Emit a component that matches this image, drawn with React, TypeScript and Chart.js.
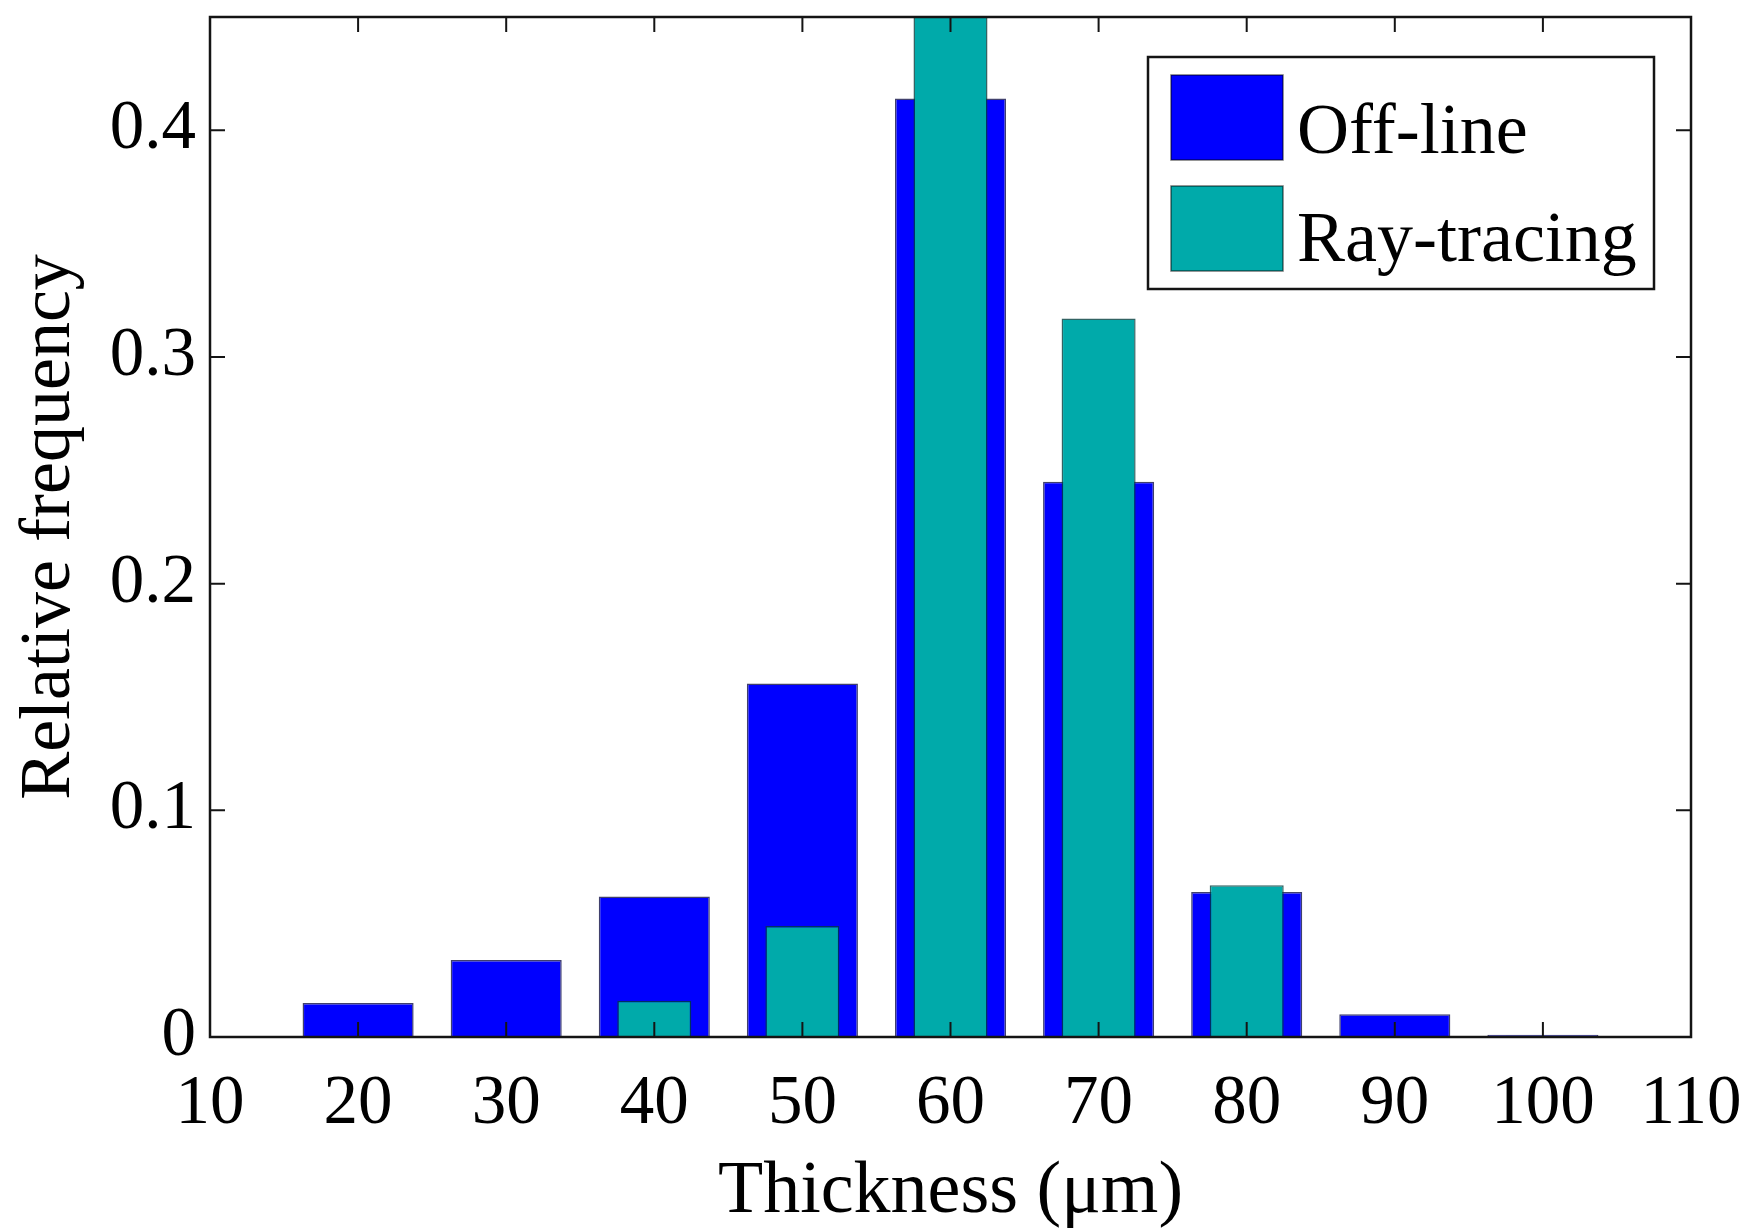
import React, { useEffect, useRef } from "react";
import { Chart, registerables } from "chart.js";

Chart.register(...registerables);

// ---- data ----
const thickness: number[] = [20, 30, 40, 50, 60, 70, 80, 90, 100];
const offLine: (number | null)[] = [0.015, 0.034, 0.062, 0.156, 0.414, 0.245, 0.064, 0.01, 0.001];
const rayTracing: (number | null)[] = [null, null, 0.016, 0.049, 0.47, 0.317, 0.067, null, 0.0006];
const xTicks: number[] = [10, 20, 30, 40, 50, 60, 70, 80, 90, 100, 110];
const yTicks: number[] = [0, 0.1, 0.2, 0.3, 0.4];
const seriesLabels: string[] = ["Off-line", "Ray-tracing"];
const xTitle = "Thickness (\u03bcm)";
const yTitle = "Relative frequency";

const FONT = "'Liberation Serif', 'Times New Roman', Times, serif";
const BLUE = "rgb(0,0,255)";
const TEAL = "rgb(0,170,170)";

const framePlugin = {
  id: "matlabFrame",
  afterDatasetsDraw(chart: any) {
    const { ctx, chartArea: a, scales } = chart;
    const xs = scales.x;
    const ys = scales.y;
    ctx.save();
    ctx.strokeStyle = "#141414";
    ctx.lineWidth = 2.5;
    ctx.strokeRect(a.left, a.top, a.right - a.left, a.bottom - a.top);
    ctx.lineWidth = 2;
    const L = 15;
    ctx.beginPath();
    for (const v of xTicks) {
      const px = xs.getPixelForValue(v);
      ctx.moveTo(px, a.bottom);
      ctx.lineTo(px, a.bottom - L);
      ctx.moveTo(px, a.top);
      ctx.lineTo(px, a.top + L);
    }
    for (const v of yTicks) {
      const py = ys.getPixelForValue(v);
      ctx.moveTo(a.left, py);
      ctx.lineTo(a.left + L, py);
      ctx.moveTo(a.right, py);
      ctx.lineTo(a.right - L, py);
    }
    ctx.stroke();
    ctx.restore();
  },
};

const legendPlugin = {
  id: "boxLegend",
  afterDraw(chart: any) {
    const { ctx, chartArea: a } = chart;
    const w = 506;
    const h = 232;
    const bx = a.right - 37 - w;
    const by = a.top + 40;
    ctx.save();
    ctx.fillStyle = "#fff";
    ctx.fillRect(bx, by, w, h);
    ctx.strokeStyle = "#141414";
    ctx.lineWidth = 2.5;
    ctx.strokeRect(bx, by, w, h);
    chart.data.datasets.forEach((ds: any, i: number) => {
      const sy = by + 18 + i * 111;
      ctx.fillStyle = ds.backgroundColor;
      ctx.fillRect(bx + 23, sy, 112, 85);
      ctx.strokeStyle = "rgba(0,0,0,0.55)";
      ctx.lineWidth = 1.5;
      ctx.strokeRect(bx + 23, sy, 112, 85);
      ctx.fillStyle = "#000";
      ctx.font = `72px ${FONT}`;
      ctx.textBaseline = "alphabetic";
      ctx.textAlign = "left";
      ctx.fillText(ds.label, bx + 149, by + 96 + i * 108);
    });
    ctx.restore();
  },
};

export default function App() {
  const canvasRef = useRef<HTMLCanvasElement | null>(null);

  useEffect(() => {
    document.body.style.margin = "0";
    document.body.style.overflow = "hidden";
    document.body.style.background = "#fff";
    const canvas = canvasRef.current;
    if (!canvas) return;
    const chart = new Chart(canvas, {
      type: "bar",
      data: {
        datasets: [
          {
            label: seriesLabels[0],
            data: thickness.map((x, i) => ({ x, y: offLine[i] })) as any,
            backgroundColor: BLUE,
            borderColor: "rgba(0,0,60,0.75)",
            borderWidth: 1.5,
            borderSkipped: "start",
            barPercentage: 0.75,
            categoryPercentage: 1,
            grouped: false,
            order: 2,
          },
          {
            label: seriesLabels[1],
            data: thickness.map((x, i) => ({ x, y: rayTracing[i] })) as any,
            backgroundColor: TEAL,
            borderColor: "rgba(0,60,60,0.8)",
            borderWidth: 1.5,
            borderSkipped: "start",
            barPercentage: 0.5,
            categoryPercentage: 1,
            grouped: false,
            order: 1,
          },
        ],
      },
      options: {
        responsive: true,
        maintainAspectRatio: false,
        animation: false,
        layout: { padding: { top: 17, right: 65, left: 0, bottom: 0 } },
        plugins: {
          legend: { display: false },
          tooltip: { enabled: false },
        },
        scales: {
          x: {
            type: "linear",
            min: 10,
            max: 110,
            offset: false,
            grid: { display: false, drawTicks: false },
            border: { display: false },
            afterBuildTicks: (s: any) => {
              s.ticks = xTicks.map((v) => ({ value: v }));
            },
            afterFit: (s: any) => {
              s.height = 193;
              s.paddingLeft = 0;
              s.paddingRight = 0;
            },
            ticks: {
              color: "#000",
              font: { family: FONT, size: 69 },
              padding: 26,
              maxRotation: 0,
              autoSkip: false,
              callback: (v: any) => String(v),
            },
            title: {
              display: true,
              text: xTitle,
              color: "#000",
              font: { family: FONT, size: 74, lineHeight: 1 },
              padding: { top: 0, bottom: 0 },
            },
          },
          y: {
            type: "linear",
            min: 0,
            max: 0.45,
            grid: { display: false, drawTicks: false },
            border: { display: false },
            afterBuildTicks: (s: any) => {
              s.ticks = yTicks.map((v) => ({ value: v }));
            },
            afterFit: (s: any) => {
              s.width = 210;
              s.paddingTop = 0;
              s.paddingBottom = 0;
            },
            ticks: {
              color: "#000",
              font: { family: FONT, size: 69 },
              padding: 14,
              callback: (v: any) => String(Math.round(Number(v) * 10) / 10),
            },
            title: {
              display: true,
              text: yTitle,
              color: "#000",
              font: { family: FONT, size: 72, lineHeight: 1 },
              padding: { top: 14, bottom: 0 },
            },
          },
        },
      },
      plugins: [framePlugin, legendPlugin],
    });
    return () => chart.destroy();
  }, []);

  return (
    <div style={{ position: "relative", width: "1756px", height: "1230px" }}>
      <canvas ref={canvasRef} />
    </div>
  );
}
